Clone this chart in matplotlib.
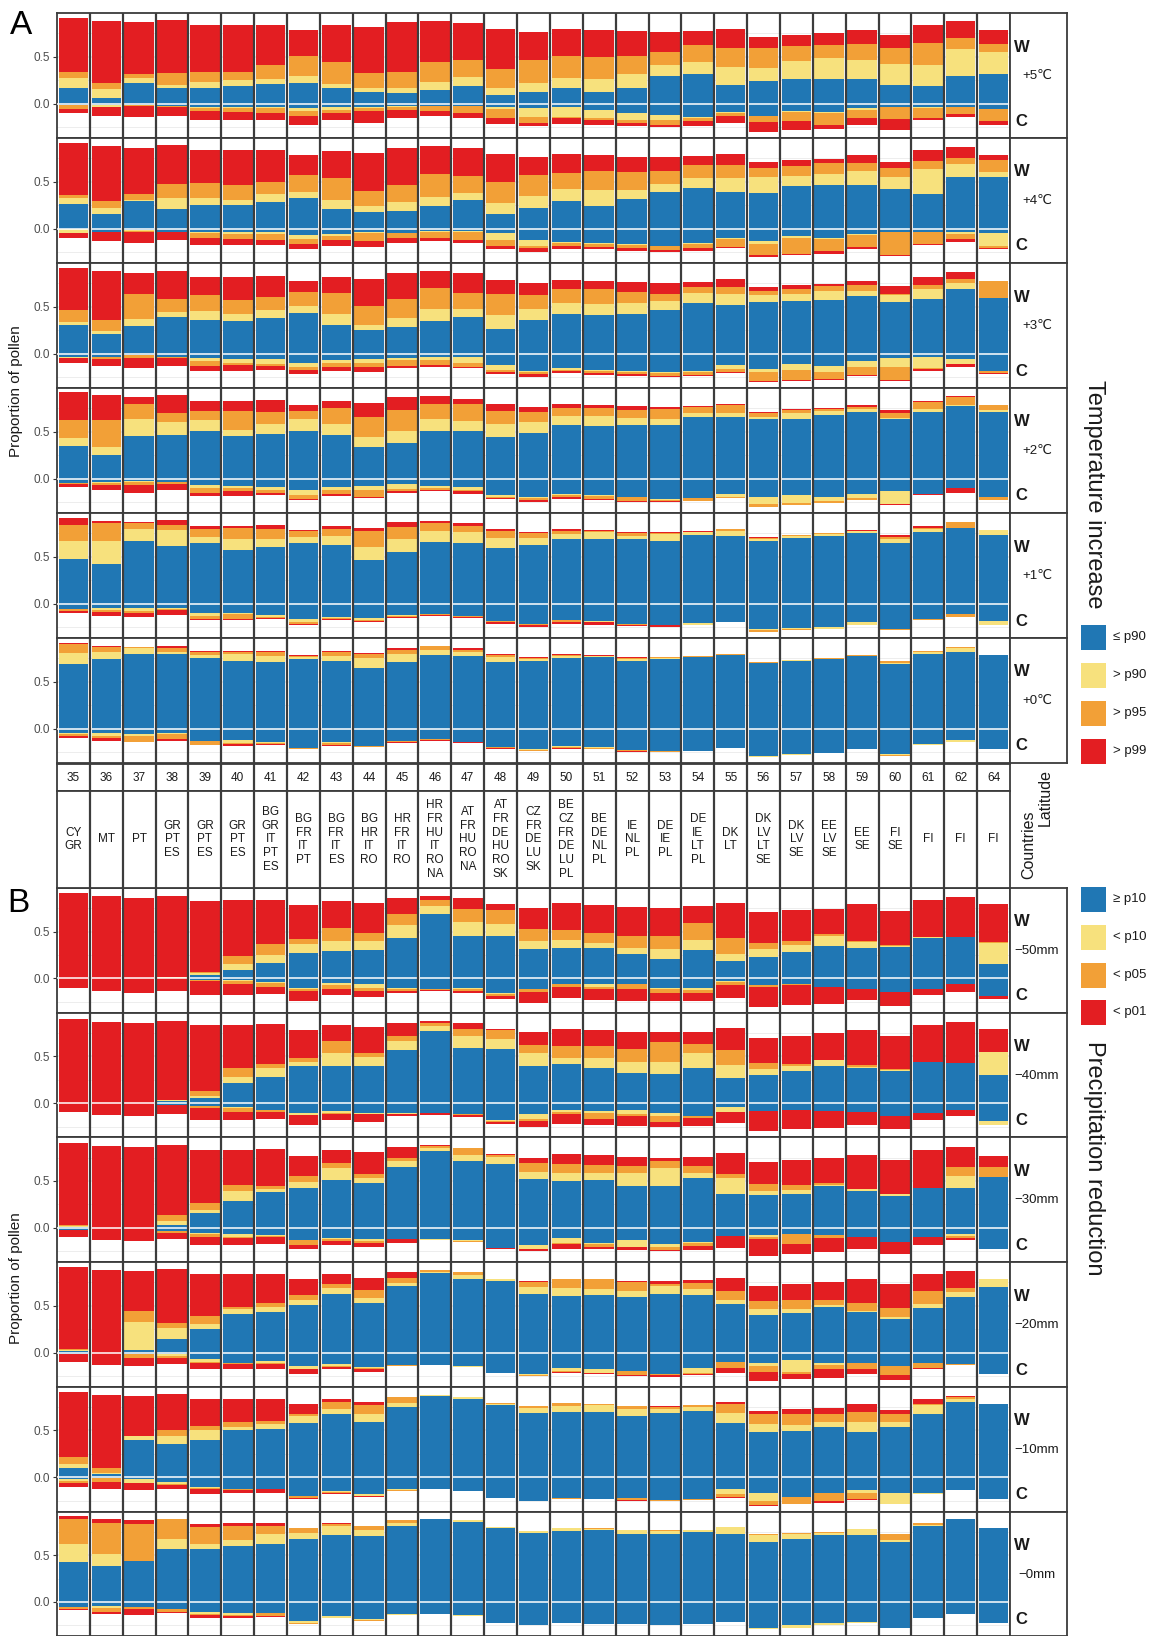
import numpy as np
import matplotlib
matplotlib.use('Agg')
import matplotlib.pyplot as plt
from matplotlib.patches import Rectangle

plt.rcParams['font.family'] = ['Liberation Sans', 'DejaVu Sans']

# ---------------- categories / labels ----------------
LATITUDES = [35, 36, 37, 38, 39, 40, 41, 42, 43, 44, 45, 46, 47, 48, 49, 50,
             51, 52, 53, 54, 55, 56, 57, 58, 59, 60, 61, 62, 64]
COUNTRIES = ["CY\nGR", "MT", "PT", "GR\nPT\nES", "GR\nPT\nES", "GR\nPT\nES",
             "BG\nGR\nIT\nPT\nES", "BG\nFR\nIT\nPT", "BG\nFR\nIT\nES", "BG\nHR\nIT\nRO",
             "HR\nFR\nIT\nRO", "HR\nFR\nHU\nIT\nRO\nNA", "AT\nFR\nHU\nRO\nNA",
             "AT\nFR\nDE\nHU\nRO\nSK", "CZ\nFR\nDE\nLU\nSK", "BE\nCZ\nFR\nDE\nLU\nPL",
             "BE\nDE\nNL\nPL", "IE\nNL\nPL", "DE\nIE\nPL", "DE\nIE\nLT\nPL", "DK\nLT",
             "DK\nLV\nLT\nSE", "DK\nLV\nSE", "EE\nLV\nSE", "EE\nSE", "FI\nSE", "FI", "FI", "FI"]
TEMP_LABELS = ["+5\u2103", "+4\u2103", "+3\u2103", "+2\u2103", "+1\u2103", "+0\u2103"]
PREC_LABELS = ["\u221250mm", "\u221240mm", "\u221230mm", "\u221220mm", "\u221210mm", "\u22120mm"]
LEGEND_A = ["\u2264 p90", "> p90", "> p95", "> p99"]
LEGEND_B = ["\u2265 p10", "< p10", "< p05", "< p01"]
COLORS = ["#2077B4", "#F7E17D", "#F2A037", "#E31E22"]

# ---------------- data: cumulative stack levels (blue, yellow, orange, red) ----------
# W = above zero, C = below zero (magnitudes)
A5_W = [(.17,.27,.34,.91),(.06,.16,.22,.88),(.22,.27,.32,.87),(.17,.20,.33,.89),(.17,.23,.34,.84),
        (.19,.25,.34,.84),(.21,.26,.41,.84),(.22,.29,.51,.78),(.17,.21,.44,.84),(.12,.17,.33,.82),
        (.11,.17,.34,.87),(.15,.23,.44,.88),(.19,.28,.46,.86),(.09,.17,.37,.79),(.12,.22,.46,.76),
        (.17,.27,.51,.79),(.12,.26,.50,.78),(.17,.32,.51,.77),(.29,.41,.55,.76),(.32,.44,.62,.77),
        (.20,.39,.59,.80),(.24,.38,.59,.71),(.26,.45,.61,.73),(.26,.49,.62,.75),(.26,.46,.63,.78),
        (.20,.42,.59,.73),(.19,.41,.65,.84),(.29,.58,.70,.88),(.32,.55,.63,.78)]
A5_C = [(.01,.01,.06,.10),(.01,.03,.04,.13),(.01,.01,.02,.14),(.02,.02,.04,.13),(.04,.05,.08,.17),
        (.04,.05,.09,.17),(.04,.05,.10,.17),(.05,.08,.13,.23),(.04,.07,.10,.17),(.04,.05,.08,.21),
        (.02,.04,.07,.15),(.02,.02,.08,.13),(.02,.02,.10,.15),(.04,.06,.15,.22),(.05,.14,.21,.24),
        (.04,.14,.15,.22),(.07,.15,.17,.23),(.10,.17,.21,.24),(.12,.17,.23,.25),(.14,.15,.18,.24),
        (.09,.10,.13,.21),(.13,.13,.20,.30),(.08,.09,.18,.28),(.09,.10,.23,.27),(.05,.07,.15,.23),
        (.03,.03,.16,.28),(.03,.05,.15,.17),(.03,.04,.11,.14),(.06,.06,.18,.23)]
A4_W = [(.26,.33,.36,.91),(.16,.22,.29,.88),(.29,.31,.37,.86),(.21,.33,.48,.89),(.25,.33,.49,.84),
        (.25,.31,.47,.84),(.28,.37,.50,.84),(.33,.39,.57,.78),(.21,.31,.54,.83),(.18,.24,.40,.81),
        (.19,.28,.46,.86),(.24,.34,.58,.88),(.31,.38,.56,.86),(.16,.27,.50,.80),(.22,.35,.57,.76),
        (.29,.42,.59,.79),(.24,.41,.61,.78),(.32,.41,.60,.76),(.39,.48,.61,.76),(.43,.54,.68,.77),
        (.39,.54,.68,.79),(.38,.55,.65,.71),(.45,.56,.67,.73),(.46,.58,.70,.74),(.47,.61,.70,.78),
        (.42,.55,.65,.71),(.37,.63,.72,.84),(.55,.69,.75,.87),(.55,.60,.73,.78)]
A4_C = [(.005,.05,.05,.10),(.04,.04,.04,.13),(.01,.02,.03,.15),(.03,.03,.04,.12),(.04,.05,.10,.17),
        (.04,.06,.11,.17),(.04,.06,.12,.17),(.07,.11,.16,.22),(.06,.08,.12,.18),(.04,.05,.13,.20),
        (.05,.05,.10,.15),(.02,.04,.10,.13),(.02,.03,.12,.15),(.05,.12,.18,.22),(.12,.18,.21,.25),
        (.14,.15,.18,.22),(.15,.16,.19,.22),(.16,.17,.21,.24),(.18,.18,.23,.25),(.15,.16,.21,.24),
        (.10,.11,.20,.21),(.13,.16,.28,.30),(.08,.10,.27,.28),(.10,.11,.24,.27),(.06,.07,.20,.22),
        (.03,.04,.28,.29),(.04,.04,.16,.17),(.03,.06,.11,.14),(.05,.18,.21,.22)]
A3_W = [(.31,.34,.46,.91),(.21,.24,.36,.88),(.30,.37,.63,.86),(.39,.44,.58,.88),(.36,.45,.62,.82),
        (.35,.42,.57,.82),(.38,.46,.60,.83),(.43,.51,.66,.77),(.31,.42,.65,.82),(.25,.31,.51,.80),
        (.28,.38,.58,.86),(.35,.48,.70,.88),(.39,.48,.65,.86),(.26,.41,.64,.78),(.36,.48,.62,.75),
        (.42,.54,.69,.78),(.41,.53,.69,.77),(.42,.54,.66,.76),(.46,.56,.64,.75),(.54,.65,.71,.76),
        (.52,.63,.71,.79),(.55,.62,.67,.71),(.56,.63,.69,.73),(.57,.67,.72,.74),(.61,.67,.73,.77),
        (.55,.62,.64,.72),(.58,.69,.73,.82),(.69,.75,.79,.87),(.59,.59,.77,.77)]
A3_C = [(.03,.05,.05,.10),(.04,.04,.06,.13),(.01,.01,.05,.15),(.03,.04,.05,.13),(.05,.08,.13,.18),
        (.06,.10,.12,.18),(.06,.11,.13,.17),(.10,.14,.17,.22),(.07,.10,.14,.18),(.06,.10,.14,.20),
        (.05,.07,.13,.15),(.04,.07,.12,.14),(.04,.10,.14,.15),(.12,.17,.19,.22),(.18,.19,.22,.25),
        (.15,.17,.18,.21),(.17,.18,.21,.23),(.18,.19,.22,.24),(.19,.21,.24,.25),(.18,.19,.23,.24),
        (.12,.16,.20,.21),(.16,.19,.29,.30),(.11,.17,.28,.29),(.13,.20,.27,.28),(.08,.14,.23,.24),
        (.05,.14,.28,.29),(.04,.15,.16,.18),(.06,.11,.11,.14),(.18,.18,.21,.22)]
A2_W = [(.35,.43,.62,.92),(.25,.34,.62,.89),(.45,.64,.80,.87),(.47,.60,.70,.89),(.51,.62,.72,.83),
        (.45,.52,.72,.83),(.48,.58,.71,.84),(.51,.63,.72,.78),(.47,.58,.75,.83),(.34,.44,.66,.81),
        (.38,.51,.73,.87),(.51,.64,.80,.88),(.51,.61,.79,.85),(.44,.58,.72,.79),(.49,.60,.71,.76),
        (.57,.67,.75,.79),(.56,.67,.75,.78),(.57,.65,.73,.77),(.57,.63,.74,.76),(.66,.70,.76,.77),
        (.66,.70,.78,.80),(.63,.66,.70,.71),(.64,.70,.73,.74),(.68,.72,.74,.75),(.71,.74,.76,.78),
        (.63,.65,.70,.73),(.71,.74,.82,.83),(.77,.78,.87,.88),(.71,.73,.78,.78)]
A2_C = [(.05,.05,.06,.09),(.04,.05,.07,.12),(.02,.04,.07,.15),(.04,.04,.06,.12),(.07,.10,.15,.18),
        (.08,.10,.13,.18),(.09,.12,.15,.17),(.12,.17,.22,.23),(.09,.12,.16,.18),(.08,.12,.19,.21),
        (.06,.11,.13,.15),(.08,.10,.12,.13),(.09,.12,.13,.16),(.17,.19,.21,.22),(.20,.21,.23,.25),
        (.16,.17,.20,.22),(.17,.18,.22,.23),(.20,.20,.24,.25),(.22,.23,.24,.25),(.21,.21,.24,.24),
        (.16,.20,.21,.21),(.20,.27,.30,.30),(.17,.26,.28,.28),(.20,.24,.26,.26),(.16,.21,.23,.23),
        (.13,.27,.27,.28),(.16,.16,.16,.17),(.10,.10,.10,.15),(.19,.19,.23,.23)]
A1_W = [(.48,.67,.84,.91),(.42,.67,.86,.88),(.67,.79,.86,.87),(.61,.78,.84,.89),(.65,.71,.80,.83),
        (.57,.69,.81,.83),(.60,.69,.79,.84),(.65,.71,.77,.78),(.62,.72,.80,.83),(.47,.60,.77,.81),
        (.55,.69,.82,.87),(.66,.77,.86,.88),(.65,.76,.83,.86),(.59,.70,.77,.79),(.62,.70,.75,.76),
        (.69,.74,.77,.79),(.69,.76,.77,.78),(.69,.72,.75,.76),(.67,.74,.75,.76),(.73,.76,.76,.77),
        (.72,.77,.80,.80),(.67,.69,.70,.71),(.70,.72,.73,.73),(.72,.74,.75,.75),(.75,.77,.77,.78),
        (.65,.69,.71,.73),(.76,.80,.81,.83),(.81,.81,.87,.87),(.73,.78,.78,.78)]
A1_C = [(.06,.06,.08,.10),(.05,.07,.09,.13),(.05,.08,.10,.14),(.05,.06,.07,.12),(.10,.13,.16,.17),
        (.10,.11,.16,.17),(.12,.14,.15,.16),(.16,.20,.22,.23),(.14,.15,.16,.17),(.15,.17,.18,.20),
        (.12,.13,.14,.15),(.11,.11,.12,.13),(.13,.13,.14,.15),(.18,.18,.20,.22),(.22,.22,.23,.25),
        (.17,.17,.19,.22),(.18,.20,.20,.23),(.22,.22,.23,.24),(.23,.23,.23,.25),(.21,.23,.23,.23),
        (.19,.20,.20,.20),(.27,.28,.30,.30),(.26,.27,.28,.28),(.25,.27,.27,.27),(.20,.23,.23,.23),
        (.27,.27,.28,.28),(.16,.16,.17,.17),(.11,.11,.14,.14),(.18,.23,.23,.23)]
A0_W = [(.69,.81,.90,.91),(.74,.82,.87,.88),(.79,.86,.87,.87),(.79,.82,.86,.88),(.75,.78,.82,.83),
        (.72,.80,.82,.83),(.71,.77,.82,.83),(.74,.76,.77,.78),(.72,.77,.82,.83),(.65,.75,.80,.81),
        (.71,.79,.84,.86),(.78,.84,.88,.88),(.77,.82,.84,.86),(.71,.76,.78,.79),(.72,.74,.75,.76),
        (.75,.77,.78,.79),(.76,.77,.77,.78),(.72,.74,.75,.76),(.74,.75,.76,.76),(.76,.76,.77,.77),
        (.78,.78,.79,.79),(.70,.70,.71,.71),(.72,.73,.73,.73),(.74,.74,.75,.75),(.77,.77,.78,.78),
        (.69,.70,.72,.72),(.79,.82,.83,.83),(.82,.86,.87,.87),(.78,.78,.78,.78)]
A0_C = [(.05,.06,.08,.10),(.05,.08,.10,.13),(.06,.08,.14,.14),(.05,.06,.11,.13),(.13,.13,.17,.17),
        (.12,.15,.16,.18),(.14,.15,.16,.17),(.21,.21,.22,.22),(.14,.15,.17,.18),(.18,.18,.19,.20),
        (.13,.13,.14,.15),(.11,.11,.12,.13),(.14,.14,.14,.15),(.19,.20,.21,.22),(.22,.23,.24,.24),
        (.18,.19,.21,.22),(.20,.21,.22,.22),(.23,.23,.24,.25),(.24,.24,.25,.25),(.24,.24,.24,.24),
        (.21,.21,.21,.21),(.29,.30,.30,.30),(.27,.28,.28,.28),(.26,.26,.26,.26),(.22,.22,.22,.22),
        (.27,.28,.29,.29),(.16,.17,.17,.17),(.12,.14,.14,.14),(.22,.22,.22,.22)]

B50_W = [(0,0,0,.91),(0,0,0,.88),(0,0,0,.86),(.01,.02,.02,.88),(.04,.06,.07,.83),
         (.09,.15,.24,.84),(.17,.25,.37,.84),(.27,.37,.42,.78),(.29,.40,.54,.83),(.30,.40,.49,.80),
         (.43,.57,.69,.86),(.69,.77,.84,.88),(.45,.60,.74,.86),(.45,.58,.73,.79),(.31,.40,.53,.75),
         (.33,.41,.52,.80),(.32,.38,.49,.78),(.26,.32,.45,.76),(.21,.31,.45,.75),(.30,.41,.59,.77),
         (.19,.26,.43,.81),(.23,.31,.38,.71),(.28,.36,.40,.73),(.35,.45,.47,.74),(.32,.39,.40,.79),
         (.34,.35,.36,.72),(.43,.44,.44,.84),(.44,.44,.44,.87),(.15,.38,.39,.79)]
B50_C = [(0,0,0,.10),(0,0,0,.13),(0,0,0,.15),(0,0,0,.13),(.02,.02,.03,.18),
         (.02,.03,.06,.18),(.04,.05,.09,.17),(.10,.11,.13,.24),(.05,.07,.11,.18),(.06,.10,.13,.20),
         (.10,.11,.13,.15),(.11,.11,.12,.13),(.10,.11,.13,.16),(.15,.17,.19,.22),(.11,.11,.14,.26),
         (.06,.06,.09,.21),(.06,.09,.11,.23),(.06,.06,.11,.24),(.10,.11,.15,.24),(.10,.12,.15,.24),
         (.03,.04,.07,.21),(.07,.07,.09,.30),(.06,.06,.07,.28),(.09,.09,.09,.27),(.11,.11,.11,.23),
         (.14,.14,.14,.29),(.11,.11,.11,.18),(.06,.06,.06,.14),(.19,.19,.19,.22)]
B40_W = [(0,0,0,.90),(0,0,0,.87),(0,0,0,.86),(.02,.03,.03,.88),(.06,.08,.13,.83),
         (.22,.28,.37,.83),(.28,.37,.42,.84),(.40,.44,.48,.78),(.40,.53,.66,.83),(.40,.49,.53,.81),
         (.57,.66,.72,.86),(.77,.82,.86,.88),(.59,.72,.79,.86),(.58,.68,.78,.79),(.40,.53,.62,.76),
         (.42,.48,.61,.79),(.38,.48,.61,.78),(.32,.44,.58,.76),(.31,.44,.65,.76),(.38,.54,.63,.76),
         (.27,.41,.57,.80),(.30,.36,.43,.70),(.34,.40,.42,.72),(.40,.46,.46,.75),(.38,.39,.41,.78),
         (.34,.35,.36,.72),(.44,.44,.44,.83),(.43,.43,.43,.87),(.30,.55,.55,.79)]
B40_C = [(0,0,0,.09),(0,0,0,.13),(0,0,0,.14),(.02,.02,.02,.12),(.03,.03,.05,.18),
         (.04,.05,.09,.18),(.07,.07,.09,.17),(.11,.13,.13,.23),(.08,.10,.12,.18),(.11,.12,.12,.20),
         (.11,.12,.12,.14),(.11,.11,.11,.13),(.12,.12,.13,.15),(.18,.19,.20,.22),(.12,.17,.19,.25),
         (.07,.09,.12,.22),(.08,.11,.17,.23),(.07,.12,.14,.24),(.10,.14,.20,.25),(.14,.14,.16,.24),
         (.04,.09,.09,.21),(.08,.08,.08,.30),(.07,.07,.07,.28),(.08,.08,.08,.26),(.09,.09,.09,.23),
         (.14,.14,.14,.28),(.10,.10,.10,.18),(.07,.07,.07,.14),(.19,.23,.23,.23)]
B30_W = [(.01,.02,.03,.90),(0,0,0,.87),(0,0,0,.86),(.03,.07,.14,.88),(.16,.19,.27,.83),
         (.29,.39,.46,.83),(.38,.41,.45,.84),(.43,.49,.55,.77),(.51,.64,.69,.83),(.48,.53,.57,.81),
         (.65,.71,.74,.86),(.82,.85,.87,.88),(.71,.78,.85,.85),(.68,.76,.78,.79),(.52,.60,.69,.75),
         (.50,.59,.68,.79),(.51,.59,.67,.78),(.45,.59,.66,.76),(.45,.64,.71,.75),(.53,.59,.66,.76),
         (.36,.53,.57,.80),(.35,.39,.47,.70),(.36,.40,.46,.72),(.45,.46,.48,.74),(.39,.41,.41,.78),
         (.34,.36,.36,.72),(.43,.43,.43,.83),(.42,.55,.65,.86),(.54,.54,.65,.77)]
B30_C = [(.02,.02,.02,.10),(0,0,0,.13),(0,0,0,.14),(.03,.03,.05,.12),(.05,.07,.10,.18),
         (.07,.10,.11,.18),(.08,.09,.10,.17),(.13,.13,.18,.23),(.11,.12,.14,.18),(.12,.14,.16,.20),
         (.12,.12,.12,.16),(.12,.13,.13,.13),(.13,.14,.15,.15),(.21,.21,.21,.22),(.18,.22,.23,.25),
         (.11,.16,.17,.22),(.16,.17,.20,.23),(.13,.20,.20,.24),(.17,.20,.24,.25),(.15,.16,.19,.24),
         (.09,.09,.09,.21),(.08,.10,.12,.30),(.07,.07,.17,.28),(.08,.08,.11,.26),(.10,.10,.10,.23),
         (.15,.15,.15,.28),(.10,.10,.10,.18),(.07,.09,.11,.13),(.23,.23,.23,.23)]
B20_W = [(.02,.03,.04,.91),(0,0,0,.88),(.03,.33,.44,.87),(.15,.26,.32,.89),(.25,.30,.39,.84),
         (.41,.46,.49,.84),(.43,.49,.53,.84),(.51,.56,.61,.78),(.63,.69,.73,.84),(.53,.58,.67,.80),
         (.71,.74,.80,.86),(.85,.86,.88,.88),(.78,.83,.86,.86),(.76,.78,.79,.79),(.62,.70,.75,.76),
         (.60,.69,.78,.79),(.61,.68,.78,.78),(.59,.66,.75,.76),(.63,.71,.73,.76),(.61,.68,.74,.77),
         (.52,.56,.66,.80),(.40,.46,.55,.71),(.42,.46,.56,.73),(.49,.51,.56,.75),(.43,.44,.53,.78),
         (.36,.38,.48,.73),(.48,.52,.66,.84),(.59,.65,.69,.87),(.70,.78,.78,.78)]
B20_C = [(.01,.01,.01,.10),(0,0,0,.13),(.01,.01,.06,.14),(.01,.04,.06,.12),(.07,.10,.11,.17),
         (.11,.11,.12,.17),(.09,.11,.12,.17),(.14,.18,.18,.23),(.12,.14,.15,.18),(.15,.16,.18,.21),
         (.13,.13,.14,.14),(.13,.13,.13,.13),(.14,.15,.15,.15),(.22,.22,.22,.22),(.23,.24,.25,.25),
         (.16,.20,.21,.22),(.17,.22,.22,.23),(.20,.20,.24,.25),(.23,.23,.24,.26),(.16,.22,.23,.24),
         (.10,.10,.16,.22),(.11,.14,.21,.30),(.08,.21,.23,.28),(.11,.13,.18,.27),(.11,.11,.17,.23),
         (.14,.14,.24,.29),(.11,.11,.16,.17),(.12,.12,.13,.13),(.23,.23,.23,.23)]
B10_W = [(.10,.14,.22,.91),(.03,.05,.10,.88),(.40,.44,.44,.87),(.35,.44,.50,.89),(.40,.50,.55,.83),
         (.50,.54,.59,.83),(.52,.57,.60,.84),(.58,.65,.68,.78),(.68,.73,.80,.83),(.59,.68,.77,.80),
         (.75,.79,.86,.86),(.87,.88,.88,.88),(.83,.86,.86,.86),(.77,.78,.79,.79),(.69,.74,.76,.76),
         (.70,.76,.79,.79),(.70,.77,.78,.78),(.65,.73,.76,.76),(.69,.73,.75,.76),(.71,.75,.77,.77),
         (.58,.69,.78,.80),(.48,.57,.68,.71),(.49,.56,.68,.73),(.54,.59,.67,.74),(.48,.59,.70,.78),
         (.54,.59,.68,.72),(.68,.77,.78,.84),(.80,.84,.86,.87),(.78,.78,.78,.78)]
B10_C = [(.02,.04,.06,.10),(.01,.01,.05,.13),(.02,.06,.06,.14),(.05,.07,.08,.12),(.10,.11,.13,.18),
         (.12,.13,.14,.17),(.12,.12,.13,.17),(.20,.20,.22,.23),(.15,.16,.17,.18),(.18,.20,.20,.21),
         (.13,.14,.15,.15),(.13,.13,.13,.13),(.15,.15,.15,.15),(.22,.22,.22,.22),(.25,.25,.25,.25),
         (.22,.22,.23,.23),(.23,.23,.23,.23),(.22,.22,.24,.25),(.24,.24,.25,.25),(.23,.23,.24,.24),
         (.12,.18,.21,.22),(.17,.25,.30,.31),(.21,.21,.28,.28),(.17,.17,.25,.27),(.14,.17,.23,.24),
         (.17,.28,.28,.28),(.17,.18,.18,.18),(.14,.14,.14,.14),(.23,.23,.23,.23)]
B0_W = [(.43,.62,.88,.92),(.38,.51,.84,.89),(.44,.44,.83,.87),(.56,.67,.88,.89),(.56,.62,.80,.83),
        (.60,.66,.81,.84),(.62,.72,.81,.84),(.67,.74,.79,.79),(.71,.81,.83,.84),(.70,.77,.81,.81),
        (.81,.84,.87,.87),(.88,.89,.89,.89),(.85,.87,.87,.87),(.79,.80,.80,.80),(.74,.76,.76,.76),
        (.76,.79,.79,.79),(.77,.78,.79,.79),(.73,.77,.77,.77),(.73,.76,.77,.77),(.75,.77,.77,.77),
        (.73,.80,.80,.80),(.64,.71,.72,.72),(.67,.73,.74,.74),(.71,.74,.75,.75),(.71,.78,.78,.78),
        (.64,.66,.73,.73),(.81,.82,.84,.84),(.88,.88,.88,.88),(.79,.79,.79,.79)]
B0_C = [(.05,.05,.08,.09),(.04,.06,.11,.13),(.05,.05,.07,.14),(.07,.07,.11,.12),(.11,.13,.14,.17),
        (.12,.14,.15,.17),(.12,.12,.15,.16),(.20,.22,.23,.23),(.15,.17,.17,.17),(.18,.19,.20,.20),
        (.13,.14,.14,.14),(.13,.13,.13,.13),(.14,.15,.15,.15),(.22,.22,.22,.22),(.25,.25,.25,.25),
        (.22,.22,.22,.22),(.23,.23,.23,.23),(.24,.24,.24,.24),(.25,.25,.25,.25),(.23,.24,.24,.24),
        (.21,.21,.21,.21),(.28,.29,.29,.29),(.25,.28,.28,.28),(.22,.25,.25,.25),(.21,.22,.22,.22),
        (.28,.28,.28,.28),(.17,.17,.17,.17),(.13,.13,.13,.13),(.22,.22,.22,.22)]

TEMP_PANELS = [(A5_W, A5_C), (A4_W, A4_C), (A3_W, A3_C), (A2_W, A2_C), (A1_W, A1_C), (A0_W, A0_C)]
PREC_PANELS = [(B50_W, B50_C), (B40_W, B40_C), (B30_W, B30_C), (B20_W, B20_C), (B10_W, B10_C), (B0_W, B0_C)]

# ---------------- layout (pixels) ----------------
FW, FH = 1153, 1636
fig = plt.figure(figsize=(FW / 100, FH / 100), dpi=100)
PX_L, PX_R, LAB_R = 57, 1010, 1067
A_TOP, A_H = 13, 125.0
B_TOP, B_H = 888, 124.7
LAT_Y = (764, 791)
CTRY_Y = (791, 888)
FRAME = '#3C3C3C'
TXT = '#1A1A1A'
NCOL = len(LATITUDES)


def add_ax(x0, y0, x1, y1):
    return fig.add_axes([x0 / FW, 1 - y1 / FH, (x1 - x0) / FW, (y1 - y0) / FH])


def style_frame(ax):
    for s in ax.spines.values():
        s.set_color(FRAME)
        s.set_linewidth(1.3)


def draw_panel(ax, wdat, cdat):
    x = np.arange(NCOL)
    w = np.array(wdat, float)
    c = np.array(cdat, float)
    wb = np.zeros(NCOL)
    cb = np.zeros(NCOL)
    for k, col in enumerate(COLORS):
        ax.bar(x, w[:, k] - wb, bottom=wb, width=0.9, color=col, linewidth=0, zorder=2)
        ax.bar(x, -(c[:, k] - cb), bottom=-cb, width=0.9, color=col, linewidth=0, zorder=2)
        wb = w[:, k]
        cb = c[:, k]
    ax.set_xlim(-0.5, NCOL - 0.5)
    ax.set_ylim(-0.365, 0.965)
    for g in (-0.25, 0.25, 0.75):
        ax.axhline(g, color='#EDEDED', lw=0.7, zorder=0)
    for g in (0.0, 0.5):
        ax.axhline(g, color='#EBEBEB', lw=1.1, zorder=0)
    ax.axhline(0, color='white', lw=1.3, alpha=0.85, zorder=3)
    for k in range(1, NCOL):
        ax.axvline(k - 0.5, color=FRAME, lw=1.6, zorder=4)
    ax.set_xticks([])
    ax.set_yticks([0, 0.5])
    ax.set_yticklabels(['0.0', '0.5'])
    ax.tick_params(axis='y', labelsize=8.5, labelcolor='#4D4D4D', color='#333333',
                   length=3, width=0.8, pad=2)
    style_frame(ax)


def draw_label_box(top, h, label):
    ax = add_ax(PX_R, top, LAB_R, top + h)
    ax.set_xlim(0, LAB_R - PX_R)
    ax.set_ylim(h, 0)
    ax.set_xticks([])
    ax.set_yticks([])
    style_frame(ax)
    ax.text(4, 34, 'W', fontsize=12, fontweight='bold', color=TXT, ha='left', va='center')
    ax.text(27, 63, label, fontsize=9.5, color=TXT, ha='center', va='center')
    ax.text(5, 108, 'C', fontsize=12, fontweight='bold', color=TXT, ha='left', va='center')


for i, (wd, cd) in enumerate(TEMP_PANELS):
    t = A_TOP + i * A_H
    draw_panel(add_ax(PX_L, t, PX_R, t + A_H), wd, cd)
    draw_label_box(t, A_H, TEMP_LABELS[i])

for i, (wd, cd) in enumerate(PREC_PANELS):
    t = B_TOP + i * B_H
    draw_panel(add_ax(PX_L, t, PX_R, t + B_H), wd, cd)
    draw_label_box(t, B_H, PREC_LABELS[i])

# strips
for (y0, y1), labels, ls in ((LAT_Y, [str(v) for v in LATITUDES], 1.0), (CTRY_Y, COUNTRIES, 1.2)):
    ax = add_ax(PX_L, y0, PX_R, y1)
    ax.set_xlim(-0.5, NCOL - 0.5)
    ax.set_ylim(0, 1)
    ax.set_xticks([])
    ax.set_yticks([])
    style_frame(ax)
    for k in range(1, NCOL):
        ax.axvline(k - 0.5, color=FRAME, lw=1.6)
    for k, lab in enumerate(labels):
        ax.text(k, 0.5, lab, ha='center', va='center', fontsize=8.5, color=TXT,
                linespacing=ls)

# overlay for free text / legend
ov = fig.add_axes([0, 0, 1, 1])
ov.set_xlim(0, FW)
ov.set_ylim(FH, 0)
ov.axis('off')
ov.text(21, 26, 'A', fontsize=24, ha='center', va='center', color='black')
ov.text(18, 903, 'B', fontsize=24, ha='center', va='center', color='black')
ov.text(16, 391, 'Proportion of pollen', rotation=90, fontsize=11, ha='center', va='center', color=TXT)
ov.text(16, 1278, 'Proportion of pollen', rotation=90, fontsize=11, ha='center', va='center', color=TXT)
ov.text(1094, 494, 'Temperature increase', rotation=270, fontsize=17, ha='center', va='center', color=TXT)
ov.text(1094, 1158, 'Precipitation reduction', rotation=270, fontsize=17, ha='center', va='center', color=TXT)
ov.text(1045, 798, 'Latitude', rotation=90, fontsize=11.5, ha='center', va='center', color=TXT)
ov.text(1029, 845, 'Countries', rotation=90, fontsize=11.5, ha='center', va='center', color=TXT)

for labels, ys in ((LEGEND_A, [637, 675, 713, 751]), (LEGEND_B, [899, 937, 975, 1012])):
    for lab, col, yc in zip(labels, COLORS, ys):
        ov.add_patch(Rectangle((1081, yc - 12.5), 25, 25, facecolor=col, edgecolor='none'))
        ov.text(1113, yc, lab, fontsize=9.5, ha='left', va='center', color=TXT)

fig.savefig('out.png', dpi=100)
